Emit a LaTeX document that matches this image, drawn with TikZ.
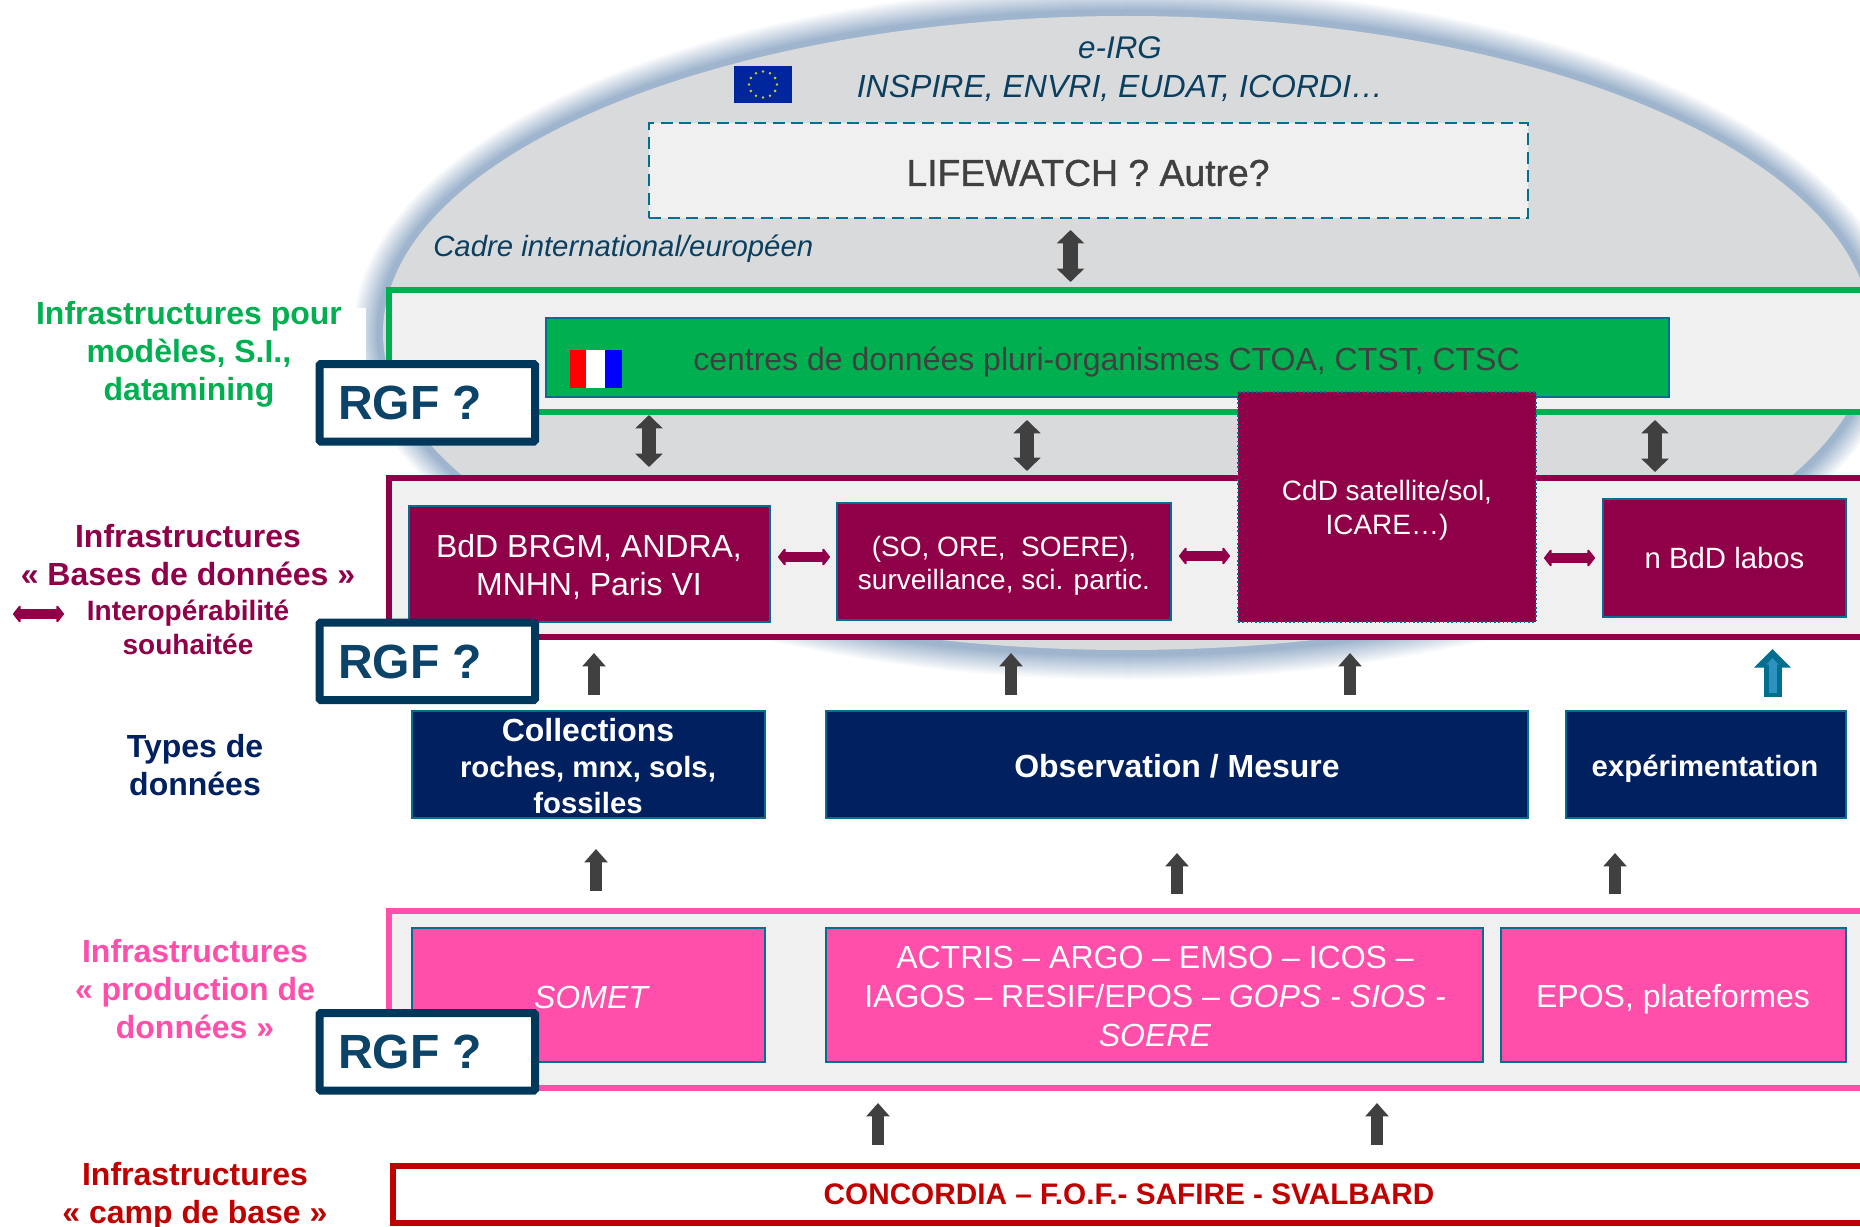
\documentclass[tikz,border=0pt]{standalone}
\usepackage{fontspec}
\setmainfont{Liberation Sans}
\usetikzlibrary{arrows.meta,calc}
\definecolor{gframe}{HTML}{00B050}
\definecolor{pur}{HTML}{900048}
\definecolor{pinkc}{HTML}{FF4FAB}
\definecolor{navyc}{HTML}{002060}
\definecolor{tealb}{HTML}{006F90}
\definecolor{panel}{HTML}{F0F0F0}
\definecolor{darkg}{HTML}{404040}
\definecolor{rgfb}{HTML}{00385C}
\definecolor{rgft}{HTML}{0B4468}
\definecolor{ink}{HTML}{0B3F60}
\definecolor{redc}{HTML}{C00000}
\definecolor{halo}{HTML}{9FB5CE}
\definecolor{ovalg}{HTML}{D9DADC}
\newcommand{\bx}[7]{%
  \pgfmathsetmacro{\cxv}{(#2+#4)/2}\pgfmathsetmacro{\cyv}{(#3+#5)/2}%
  \pgfmathsetmacro{\wv}{(#4-#2)*.75}\pgfmathsetmacro{\hv}{(#5-#3)*.75}%
  \node[rectangle,inner sep=0pt,outer sep=0pt,minimum width=\wv pt,minimum height=\hv pt,#6] (#1) at (\cxv,\cyv) {#7};}
\tikzset{
  frameb/.style={draw=#1,fill=panel,line width=3.8pt},
  inbox/.style={draw=tealb,fill=#1,line width=1.8pt,text=white,align=center},
  rgfbox/.style={draw=rgfb,fill=white,line width=6pt,rounded corners=1pt},
  rgftext/.style={text=rgft,font=\fontsize{36}{40}\selectfont\bfseries},
  lab/.style={text=#1,align=center,font=\fontsize{24}{28.5}\selectfont\bfseries},
  wtxt/.style={font=\fontsize{24}{28.5}\selectfont},
  dblv/.style={draw=darkg,line width=11pt,{Triangle[length=10pt,width=20pt]}-{Triangle[length=10pt,width=20pt]}},
  upg/.style={draw=darkg,line width=9pt,-{Triangle[length=10pt,width=17pt]}},
  dblh/.style={draw=pur,line width=8pt,{Triangle[length=6pt,width=15pt,round]}-{Triangle[length=6pt,width=15pt,round]}},
}
\begin{document}
\begin{tikzpicture}[x=0.75pt,y=-0.75pt]
\useasboundingbox (0,0) rectangle (1860,1227);
\clip (0,0) rectangle (1860,1227);
% oval with soft halo
\foreach \i in {30,29,...,1}{
  \pgfmathsetmacro{\mixv}{min(100,(31-\i)*100/25)}
  \fill[halo!\mixv!white] (1127,333) ellipse [x radius=744+\i,y radius=317+\i];
}
\fill[ovalg] (1127,333) ellipse [x radius=744,y radius=317];
\fill[white] (0,308) rectangle (366,420);
% top labels
\node[text=ink,font=\fontsize{23.5}{28}\selectfont\itshape] (eirg) at (1120,48) {e-IRG};
\node[text=ink,font=\fontsize{24}{28}\selectfont\itshape] (insp) at (1120,88) {INSPIRE, ENVRI, EUDAT, ICORDI…};
\node[text=ink,font=\fontsize{22}{26}\selectfont\itshape,anchor=west,inner sep=0pt] (cadre) at (433,248.5) {Cadre international/européen};
% EU flag
\fill[blue!55!black!85!cyan] (734,66) rectangle (792,103);
\foreach \a in {0,30,...,330}{\fill[yellow!80!black] ($(763,84.5)+(\a:14 and 13)$) circle (1.4);}
% dashed box
\bx{lw}{649}{123}{1528}{218}{draw=tealb,fill=panel,line width=1.9pt,dash pattern=on 9pt off 5pt}{}
\node[text=darkg,font=\fontsize{28}{32}\selectfont\addfontfeature{FakeBold=1}] (lwt) at (1088,173) {LIFEWATCH ? Autre?};
% green frame
\bx{gf}{389}{290}{1875}{412}{frameb=gframe}{}
\bx{gb}{546}{318}{1669}{397}{draw=tealb,fill=gframe,line width=1.8pt}{}
\node[text=darkg,wtxt] (gbt) at (1106.5,362.5) {centres de données pluri-organismes CTOA, CTST, CTSC};
\fill[red] (570,350) rectangle (586,388);
\fill[white] (586,350) rectangle (605,388);
\fill[blue] (605,350) rectangle (622,388);
% purple frame
\bx{pf}{389}{478}{1875}{637}{frameb=pur}{}
\bx{bd1}{409}{506}{770}{622}{inbox=pur}{}
\node[text=white,align=center,font=\fontsize{24}{28.5}\selectfont] (bd1t) at (589,567) {BdD BRGM, ANDRA,\\MNHN, Paris VI};
\bx{bd2}{837}{503}{1171}{620}{inbox=pur}{}
\node[text=white,align=center,font=\fontsize{21}{25}\selectfont] (bd2t) at (1004,566) {(SO, ORE,\ \ SOERE),\\surveillance, sci. partic.};
\bx{bd3}{1238}{392}{1536}{622}{draw=tealb,fill=pur,line width=1.2pt,dotted}{}
\node[text=white,align=center,font=\fontsize{21}{25.5}\selectfont] (bd3t) at (1387,510) {CdD satellite/sol,\\ICARE…)};
\bx{bd4}{1603}{499}{1846}{617}{inbox=pur,font=\fontsize{22}{25}\selectfont}{n BdD labos}
% data types
\bx{d1}{412}{711}{765}{818}{inbox=navyc}{}
\node[text=white,align=center,font=\fontsize{22}{27}\selectfont\bfseries] (d1t) at (588,766) {{\fontsize{24}{27.5}\selectfont Collections}\\roches, mnx, sols,\\fossiles};
\bx{d2}{826}{711}{1528}{818}{inbox=navyc}{}
\node[text=white,font=\fontsize{24}{28}\selectfont\bfseries] (d2t) at (1177,766) {Observation / Mesure};
\bx{d3}{1566}{711}{1846}{818}{inbox=navyc}{}
\node[text=white,font=\fontsize{22}{28}\selectfont\bfseries] (d3t) at (1705,769) {expérimentation};
% pink frame
\bx{kf}{389}{911}{1875}{1088}{frameb=pinkc}{}
\bx{k1}{412}{928}{765}{1062}{inbox=pinkc}{}
\node[text=white,font=\fontsize{24}{28.5}\selectfont\itshape] (k1t) at (591,997) {SOMET};
\bx{k2}{826}{928}{1483}{1062}{inbox=pinkc}{}
\node[text=white,align=center,font=\fontsize{24}{29}\selectfont] (k2t) at (1155,996.5) {ACTRIS – ARGO – EMSO – ICOS –\\IAGOS – RESIF/EPOS – \textit{GOPS - SIOS -}\\\textit{SOERE}};
\bx{k3}{1501}{928}{1846}{1062}{inbox=pinkc}{}
\node[text=white,font=\fontsize{24}{28.5}\selectfont] (k3t) at (1673,999.5) {EPOS, plateformes};
% red box
\bx{rb}{393}{1166}{1875}{1223}{draw=redc,fill=white,line width=3.8pt}{}
\node[text=redc,font=\fontsize{22.3}{27}\selectfont\bfseries] (rbt) at (1129,1194) {CONCORDIA – F.O.F.- SAFIRE - SVALBARD};
% RGF
\bx{r1}{319.5}{364}{535}{441.5}{rgfbox}{}
\bx{r2}{319.5}{622.5}{535}{700}{rgfbox}{}
\bx{r3}{319.5}{1013}{535}{1090.5}{rgfbox}{}
\node[rgftext,anchor=west,inner sep=0pt] (r1t) at (338,403) {RGF ?};
\node[rgftext,anchor=west,inner sep=0pt] (r2t) at (338,662) {RGF ?};
\node[rgftext,anchor=west,inner sep=0pt] (r3t) at (338,1052) {RGF ?};
% side labels
\node[lab=gframe] (l1) at (189,354) {Infrastructures pour\\modèles, S.I.,\\datamining};
\node[lab=pur] (l2) at (188,555) {Infrastructures\\« Bases de données »};
\node[lab=pur,font=\fontsize{21}{25.5}\selectfont\bfseries] (l2b) at (188,627) {Interopérabilité\\souhaitée};
\node[lab=navyc] (l3) at (195,765) {Types de\\données};
\node[lab=pinkc] (l4) at (195,989) {Infrastructures\\« production de\\données »};
\node[lab=redc] (l5) at (195,1196.5) {Infrastructures\\« camp de base »};
% connector ends
\coordinate (a1s) at (1070.5,230); \coordinate (a1e) at (1070.5,282);
\coordinate (a2s) at (649,415);  \coordinate (a2e) at (649,467);
\coordinate (a3s) at (1027,420); \coordinate (a3e) at (1027,471);
\coordinate (a4s) at (1655,420); \coordinate (a4e) at (1655,472);
\draw[dblv] (a1s) -- (a1e);
\draw[dblv] (a2s) -- (a2e);
\draw[dblv] (a3s) -- (a3e);
\draw[dblv] (a4s) -- (a4e);
\coordinate (u1s) at (594,695);  \coordinate (u1e) at (594,653);
\coordinate (u2s) at (1011,695); \coordinate (u2e) at (1011,653);
\coordinate (u3s) at (1350,695); \coordinate (u3e) at (1350,653);
\coordinate (u4s) at (596,891);  \coordinate (u4e) at (596,849);
\coordinate (u5s) at (1177,894); \coordinate (u5e) at (1177,853);
\coordinate (u6s) at (1615,894); \coordinate (u6e) at (1615,853);
\coordinate (u7s) at (878,1145); \coordinate (u7e) at (878,1103);
\coordinate (u8s) at (1377,1145);\coordinate (u8e) at (1377,1103);
\foreach \n in {1,...,8}{\draw[upg] (u\n s) -- (u\n e);}
\coordinate (b1s) at (1772.5,697); \coordinate (b1e) at (1772.5,649);
\draw[draw=tealb,line width=13.5pt,-{Triangle[length=14pt,width=27pt]}] (b1s) -- (b1e);
\coordinate (b2s) at (1772.5,693); \coordinate (b2e) at (1772.5,658);
\draw[draw=cyan!50!tealb,line width=6pt,-{Triangle[length=5pt,width=9pt]}] (b2s) -- (b2e);
\coordinate (h1s) at (778,557);  \coordinate (h1e) at (830,557);
\coordinate (h2s) at (1179,556); \coordinate (h2e) at (1230,556);
\coordinate (h3s) at (1544,558); \coordinate (h3e) at (1595,558);
\coordinate (h4s) at (13,614);   \coordinate (h4e) at (64,614);
\draw[dblh] (h1s) -- (h1e);
\draw[dblh] (h2s) -- (h2e);
\draw[dblh] (h3s) -- (h3e);
\draw[dblh] (h4s) -- (h4e);
\end{tikzpicture}
\end{document}
